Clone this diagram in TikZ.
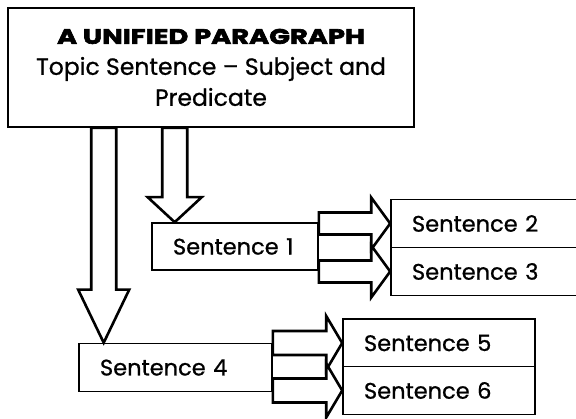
\documentclass[tikz,border=0pt]{standalone}
\usepackage{fontspec}
\setmainfont{Poppins}[FakeBold=0.8]
\newfontfamily\titlefont{Poppins}[BoldFeatures={FakeBold=3,FakeStretch=1.3}]
\usetikzlibrary{calc}

\tikzset{
  box/.style={draw, line width=1.6pt, fill=white},
  sentbox/.style={box, minimum height=48pt, inner xsep=21pt, inner ysep=0pt, align=left, font=\fontsize{22.5}{24}\selectfont},
  fatarrow/.style={draw, line width=2.6pt, fill=white, line join=miter}
}

\newcommand{\fatarrow}[5]{%
  \coordinate (fa-h) at ($(#2)!#5!(#1)$);
  \draw[fatarrow] ($(#1)!#3!90:(#2)$) -- ($(fa-h)!#3!-90:(#1)$) -- ($(fa-h)!#4!-90:(#1)$) -- (#2)
    -- ($(fa-h)!#4!90:(#1)$) -- ($(fa-h)!#3!90:(#1)$) -- ($(#1)!#3!-90:(#2)$) -- cycle;
}

\begin{document}
\begin{tikzpicture}[x=1pt,y=-1pt]
\useasboundingbox (0,0) rectangle (576,419);

\node[box, minimum width=406pt, minimum height=119pt, inner sep=0pt, align=center,
  font=\fontsize{23.5}{31}\selectfont] (topic) at (211,67.5)
  {{\titlefont\bfseries\fontsize{21}{31}\selectfont A UNIFIED PARAGRAPH}\\Topic Sentence -- Subject and\\Predicate};

\node[sentbox, text width=124pt, minimum height=47pt] (s1) at (235,246.5) {Sentence 1};
\node[sentbox, text width=147pt] (s2) at (485.5,223.5) {Sentence 2};
\node[sentbox, text width=147pt] (s3) at (485.5,271.5) {Sentence 3};
\node[sentbox, text width=151pt] (s4) at (175.5,367.5) {Sentence 4};
\node[sentbox, text width=150pt] (s5) at (439,343) {Sentence 5};
\node[sentbox, text width=150pt] (s6) at (439,390.5) {Sentence 6};

\coordinate (d1s) at ([xshift=96.5pt]topic.south west);
\coordinate (d1e) at (d1s |- s4.north);
\fatarrow{d1s}{d1e}{12.5pt}{25.5pt}{53pt}
\coordinate (d2s) at ([xshift=167.5pt]topic.south west);
\coordinate (d2e) at (d2s |- s1.north);
\fatarrow{d2s}{d2e}{12.5pt}{27pt}{25pt}

\coordinate (r1s) at (s1.east |- s2.west);
\fatarrow{r1s}{s2.west}{11pt}{26pt}{19pt}
\coordinate (r2s) at (s1.east |- s3.west);
\fatarrow{r2s}{s3.west}{11pt}{26pt}{19pt}
\coordinate (r3s) at (s4.east |- s5.west);
\fatarrow{r3s}{s5.west}{12pt}{27pt}{16pt}
\coordinate (r4s) at (s4.east |- s6.west);
\fatarrow{r4s}{s6.west}{12pt}{27pt}{16pt}
\end{tikzpicture}
\end{document}
